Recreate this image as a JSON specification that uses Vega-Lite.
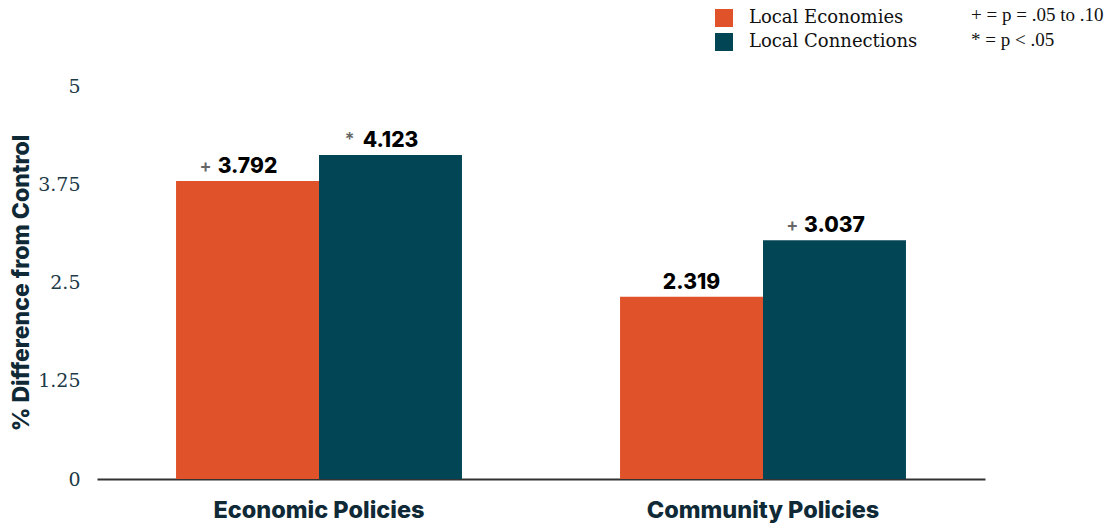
{
  "$schema": "https://vega.github.io/schema/vega-lite/v6.json",
  "width": 888,
  "height": 393,
  "padding": {"left": 10, "top": 6, "right": 5, "bottom": 5},
  "autosize": {"type": "pad"},
  "background": "white",
  "config": {
    "view": {"stroke": null},
    "legend": {"padding": 0}
  },
  "title": {
    "text": ["+ = p = .05 to .10", "* = p < .05"],
    "anchor": "end",
    "align": "left",
    "frame": "group",
    "dx": -14,
    "dy": 71,
    "orient": "top",
    "offset": 30,
    "font": "Liberation Serif",
    "fontSize": 19,
    "fontWeight": "normal",
    "color": "#111111",
    "lineHeight": 25
  },
  "data": {
    "values": [
      {"policy": "Economic Policies", "series": "Local Economies", "value": 3.792, "sig": "+"},
      {"policy": "Economic Policies", "series": "Local Connections", "value": 4.123, "sig": "*"},
      {"policy": "Community Policies", "series": "Local Economies", "value": 2.319, "sig": ""},
      {"policy": "Community Policies", "series": "Local Connections", "value": 3.037, "sig": "+"}
    ]
  },
  "encoding": {
    "x": {
      "field": "policy",
      "type": "nominal",
      "sort": ["Economic Policies", "Community Policies"],
      "scale": {"paddingInner": 0.356, "paddingOuter": 0.178},
      "axis": {
        "title": null,
        "labelAngle": 0,
        "labelFont": "Inter",
        "labelFontWeight": 800,
        "labelFontSize": 23.5,
        "labelColor": "#0f2a36",
        "labelPadding": 19,
        "labelLimit": 400,
        "ticks": false,
        "domainColor": "#333333",
        "domainWidth": 2
      }
    },
    "xOffset": {
      "field": "series",
      "sort": ["Local Economies", "Local Connections"],
      "scale": {"paddingInner": 0, "paddingOuter": 0}
    },
    "y": {
      "field": "value",
      "type": "quantitative",
      "scale": {"domain": [0, 5]},
      "axis": {
        "values": [0, 1.25, 2.5, 3.75, 5],
        "format": ".3~f",
        "grid": false,
        "domain": false,
        "ticks": false,
        "labelFont": "DejaVu Serif",
        "labelFontSize": 19,
        "labelColor": "#1d3a47",
        "labelPadding": 17,
        "title": "% Difference from Control",
        "titleFont": "Inter",
        "titleFontWeight": 800,
        "titleFontSize": 23,
        "titleColor": "#0f2a36",
        "titlePadding": 4
      }
    }
  },
  "layer": [
    {
      "mark": {"type": "bar"},
      "encoding": {
        "color": {
          "field": "series",
          "type": "nominal",
          "scale": {"domain": ["Local Economies", "Local Connections"], "range": ["#e05229", "#024655"]},
          "legend": {
            "title": null,
            "orient": "none",
            "legendX": 618,
            "legendY": -77,
            "symbolType": "square",
            "symbolSize": 324,
            "symbolStrokeWidth": 0,
            "labelFont": "DejaVu Serif",
            "labelFontSize": 18,
            "labelColor": "#111111",
            "labelOffset": 16,
            "labelLimit": 300,
            "rowPadding": 6
          }
        }
      }
    },
    {
      "mark": {"type": "text", "baseline": "alphabetic", "dy": -8, "font": "Inter", "fontWeight": 800, "fontSize": 21, "color": "#000000"},
      "encoding": {
        "text": {"field": "value", "type": "quantitative", "format": ".3f"}
      }
    },
    {
      "mark": {"type": "text", "baseline": "alphabetic", "align": "right", "dx": -36, "dy": -9, "font": "Inter", "fontWeight": 600, "fontSize": 18, "color": "#666666"},
      "encoding": {
        "text": {"field": "sig", "type": "nominal"}
      }
    }
  ]
}
